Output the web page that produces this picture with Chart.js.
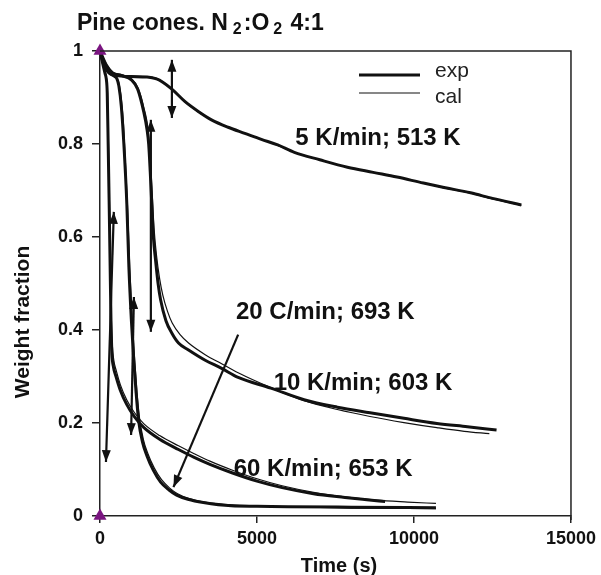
<!DOCTYPE html>
<html>
<head>
<meta charset="utf-8">
<script src="https://cdn.jsdelivr.net/npm/chart.js@4.4.1/dist/chart.umd.min.js"></script>
<style>
  body { margin: 0; background: #fff; }
  #wrap { width: 601px; height: 575px; }
</style>
</head>
<body>
<div id="wrap"><canvas id="chart" width="601" height="575"></canvas></div>
<script>
// 5 K/min; 513 K
const time5 = [0, 100, 250, 500, 1000, 1500, 1800, 2000, 2290, 2710, 3130, 3550, 4080, 4610, 5140, 5660, 6190, 7000, 7880, 8700, 9460, 10300, 11000, 11800, 12500, 13420];
const exp5 = [1, 0.975, 0.955, 0.947, 0.945, 0.944, 0.94, 0.933, 0.918, 0.891, 0.87, 0.852, 0.836, 0.823, 0.81, 0.798, 0.782, 0.766, 0.75, 0.739, 0.729, 0.716, 0.706, 0.695, 0.683, 0.669];
const cal5 = [1, 0.977, 0.957, 0.948, 0.946, 0.945, 0.941, 0.934, 0.918, 0.89, 0.869, 0.852, 0.836, 0.823, 0.81, 0.797, 0.782, 0.766, 0.75, 0.739, 0.729, 0.716, 0.705, 0.694, 0.682, 0.668];

// 10 K/min; 603 K
const time10 = [0, 200, 400, 700, 1000, 1200, 1390, 1500, 1550, 1600, 1650, 1700, 1770, 1850, 1930, 2100, 2290, 2500, 2820, 3350, 3860, 4400, 5440, 6500, 7560, 8600, 9680, 10730, 11700, 12630];
const exp10 = [1, 0.97, 0.953, 0.947, 0.938, 0.918, 0.87, 0.83, 0.8, 0.74, 0.67, 0.6, 0.55, 0.5, 0.465, 0.42, 0.393, 0.372, 0.357, 0.335, 0.318, 0.298, 0.275, 0.25, 0.234, 0.222, 0.21, 0.199, 0.192, 0.185];
const time10c = [0, 200, 400, 700, 1000, 1200, 1390, 1550, 1650, 1720, 1800, 1900, 2000, 2150, 2300, 2550, 2820, 3350, 3860, 4400, 5440, 6500, 7560, 8600, 9680, 10730, 11600, 12400];
const cal10 = [1, 0.972, 0.955, 0.949, 0.94, 0.922, 0.88, 0.82, 0.71, 0.62, 0.56, 0.51, 0.475, 0.44, 0.415, 0.39, 0.372, 0.347, 0.328, 0.308, 0.276, 0.248, 0.229, 0.214, 0.201, 0.19, 0.182, 0.177];

// 20 C/min; 693 K
const time20 = [0, 150, 300, 450, 540, 600, 680, 760, 855, 920, 1000, 1075, 1150, 1230, 1350, 1490, 1700, 1930, 2200, 2440, 2800, 3290, 4180, 5000, 6000, 8000, 10700];
const exp20 = [1, 0.97, 0.953, 0.946, 0.94, 0.925, 0.88, 0.8, 0.67, 0.535, 0.42, 0.335, 0.265, 0.205, 0.16, 0.13, 0.098, 0.073, 0.056, 0.045, 0.036, 0.029, 0.022, 0.021, 0.02, 0.019, 0.018];
const time20c = [0, 150, 300, 450, 550, 620, 690, 750, 810, 880, 950, 1030, 1110, 1180, 1260, 1380, 1520, 1730, 1960, 2220, 2470, 2820, 3320, 4200, 6000, 8000, 10700];
const cal20 = [1, 0.975, 0.957, 0.948, 0.94, 0.925, 0.89, 0.84, 0.76, 0.66, 0.53, 0.42, 0.33, 0.265, 0.21, 0.165, 0.135, 0.103, 0.078, 0.06, 0.048, 0.038, 0.03, 0.024, 0.02, 0.017, 0.016];

// 60 K/min; 653 K
const time60 = [0, 80, 160, 200, 230, 260, 290, 320, 350, 380, 430, 510, 650, 850, 1100, 1400, 1900, 2500, 3000, 3500, 4200, 5000, 5800, 6800, 7800, 8500, 9080];
const exp60 = [1, 0.975, 0.952, 0.94, 0.91, 0.8, 0.68, 0.55, 0.42, 0.35, 0.32, 0.3, 0.27, 0.24, 0.213, 0.19, 0.165, 0.143, 0.126, 0.111, 0.093, 0.075, 0.061, 0.048, 0.04, 0.035, 0.031];
const time60c = [0, 80, 160, 200, 240, 270, 300, 330, 360, 390, 440, 520, 650, 850, 1100, 1400, 1900, 2500, 3000, 3500, 4200, 5000, 5800, 6800, 7800, 8800, 9800, 10700];
const cal60 = [1, 0.978, 0.956, 0.945, 0.91, 0.8, 0.68, 0.55, 0.43, 0.37, 0.335, 0.312, 0.282, 0.25, 0.222, 0.198, 0.173, 0.151, 0.134, 0.118, 0.099, 0.08, 0.065, 0.051, 0.041, 0.034, 0.03, 0.027];

// start / end markers
const markerTime = [0, 0];
const markerValue = [1, 0];

const xTicks = [0, 5000, 10000, 15000];
const yTicks = [0, 0.2, 0.4, 0.6, 0.8, 1];

// annotations (data coordinates)
const arrows = [
  { from: [2290, 0.856], to: [2290, 0.981], both: true },
  { from: [1620, 0.396], to: [1620, 0.852], both: true },
  { from: [990, 0.174], to: [1080, 0.471], both: true },
  { from: [190, 0.116], to: [440, 0.654], both: true },
  { from: [4400, 0.39], to: [2340, 0.062], both: false },
];
const curveLabels = [
  { text: "5 K/min; 513 K", at: [6220, 0.813] },
  { text: "20 C/min; 693 K", at: [4330, 0.437] },
  { text: "10 K/min; 603 K", at: [5530, 0.286] },
  { text: "60 K/min; 653 K", at: [4260, 0.101] },
];

const pts = (ts, vs) => ts.map((t, i) => ({ x: t, y: vs[i] }));

const line = (label, ts, vs, w) => ({
  label: label,
  data: pts(ts, vs),
  showLine: true,
  borderColor: "#111",
  borderWidth: w,
  pointRadius: 0,
  fill: false,
  cubicInterpolationMode: "monotone",
});

const FONT = "'Liberation Sans', Arial, sans-serif";

function arrowHead(ctx, x1, y1, x2, y2) {
  const a = Math.atan2(y2 - y1, x2 - x1);
  const len = 12, half = 4.5;
  ctx.beginPath();
  ctx.moveTo(x2, y2);
  ctx.lineTo(x2 - len * Math.cos(a) + half * Math.sin(a), y2 - len * Math.sin(a) - half * Math.cos(a));
  ctx.lineTo(x2 - len * Math.cos(a) - half * Math.sin(a), y2 - len * Math.sin(a) + half * Math.cos(a));
  ctx.closePath();
  ctx.fill();
}

const decor = {
  id: "decor",
  afterDatasetsDraw(chart) {
    const ctx = chart.ctx;
    const { left, right, top, bottom } = chart.chartArea;
    const xs = chart.scales.x, ys = chart.scales.y;

    // box top and right
    ctx.save();
    ctx.strokeStyle = "#222";
    ctx.lineWidth = 1.5;
    ctx.beginPath();
    ctx.moveTo(left, top);
    ctx.lineTo(right, top);
    ctx.lineTo(right, bottom + 4);
    ctx.stroke();

    // arrows
    ctx.strokeStyle = "#111";
    ctx.fillStyle = "#111";
    ctx.lineWidth = 2.2;
    arrows.forEach((a) => {
      const x1 = xs.getPixelForValue(a.from[0]), y1 = ys.getPixelForValue(a.from[1]);
      const x2 = xs.getPixelForValue(a.to[0]), y2 = ys.getPixelForValue(a.to[1]);
      ctx.beginPath();
      ctx.moveTo(x1, y1);
      ctx.lineTo(x2, y2);
      ctx.stroke();
      arrowHead(ctx, x1, y1, x2, y2);
      if (a.both) arrowHead(ctx, x2, y2, x1, y1);
    });

    // curve labels
    ctx.font = "bold 24px " + FONT;
    ctx.textAlign = "left";
    ctx.textBaseline = "middle";
    curveLabels.forEach((l) => {
      ctx.fillText(l.text, xs.getPixelForValue(l.at[0]), ys.getPixelForValue(l.at[1]));
    });

    // legend
    ctx.lineWidth = 3;
    ctx.beginPath();
    ctx.moveTo(359, 75);
    ctx.lineTo(420, 75);
    ctx.stroke();
    ctx.lineWidth = 1.2;
    ctx.beginPath();
    ctx.moveTo(359, 93);
    ctx.lineTo(420, 93);
    ctx.stroke();
    ctx.fillStyle = "#222";
    ctx.font = "21px " + FONT;
    ctx.textBaseline = "alphabetic";
    ctx.fillText("exp", 435, 77);
    ctx.fillText("cal", 435, 103);

    // title with subscripts
    ctx.fillStyle = "#111";
    const big = "bold 23px " + FONT, small = "bold 16px " + FONT;
    let x = 77;
    const part = (txt, f, y, gap) => {
      ctx.font = f;
      ctx.fillText(txt, x, y);
      x += ctx.measureText(txt).width + gap;
    };
    part("Pine cones. N", big, 29.5, 5);
    part("2", small, 34, 2);
    part(":O", big, 29.5, 4);
    part("2", small, 34, 2);
    part(" 4:1", big, 29.5, 0);

    // axis titles
    ctx.font = "bold 20px " + FONT;
    ctx.textAlign = "center";
    ctx.fillText("Time (s)", 339, 572);
    ctx.translate(29, 322);
    ctx.rotate(-Math.PI / 2);
    ctx.font = "bold 21px " + FONT;
    ctx.fillText("Weight fraction", 0, 0);
    ctx.restore();
  },
};

const tickFont = { family: FONT, size: 18, weight: "bold" };

new Chart(document.getElementById("chart"), {
  type: "scatter",
  data: {
    datasets: [
      {
        label: "markers",
        data: pts(markerTime, markerValue),
        pointStyle: "triangle",
        pointRadius: 7.5,
        backgroundColor: "#7a1580",
        borderWidth: 0,
        clip: false,
      },
      line("exp 5", time5, exp5, 3),
      line("cal 5", time5, cal5, 1.2),
      line("exp 10", time10, exp10, 3),
      line("cal 10", time10c, cal10, 1.2),
      line("exp 20", time20, exp20, 3),
      line("cal 20", time20c, cal20, 1.2),
      line("exp 60", time60, exp60, 3),
      line("cal 60", time60c, cal60, 1.2),
    ],
  },
  options: {
    responsive: false,
    animation: false,
    devicePixelRatio: 1,
    layout: { padding: { top: 51, right: 26, bottom: 0, left: 0 } },
    plugins: {
      legend: { display: false },
      title: { display: false },
      tooltip: { enabled: false },
    },
    scales: {
      x: {
        type: "linear",
        min: 0,
        max: 15000,
        afterBuildTicks: (axis) => { axis.ticks = xTicks.map((v) => ({ value: v })); },
        afterFit: (axis) => { axis.height = 59; },
        border: { color: "#222", width: 1.5 },
        grid: { drawOnChartArea: false, drawTicks: true, tickLength: 7, color: "#222", lineWidth: 1.5 },
        ticks: { font: tickFont, color: "#111", padding: 5, maxRotation: 0, callback: (v) => String(v) },
      },
      y: {
        type: "linear",
        min: 0,
        max: 1,
        afterBuildTicks: (axis) => { axis.ticks = yTicks.map((v) => ({ value: v })); },
        afterFit: (axis) => { axis.width = 100; },
        border: { color: "#222", width: 1.5 },
        grid: { drawOnChartArea: false, drawTicks: true, tickLength: 8, color: "#222", lineWidth: 1.5 },
        ticks: { font: tickFont, color: "#111", padding: 9, callback: (v) => String(v) },
      },
    },
  },
  plugins: [decor],
});
</script>
</body>
</html>
